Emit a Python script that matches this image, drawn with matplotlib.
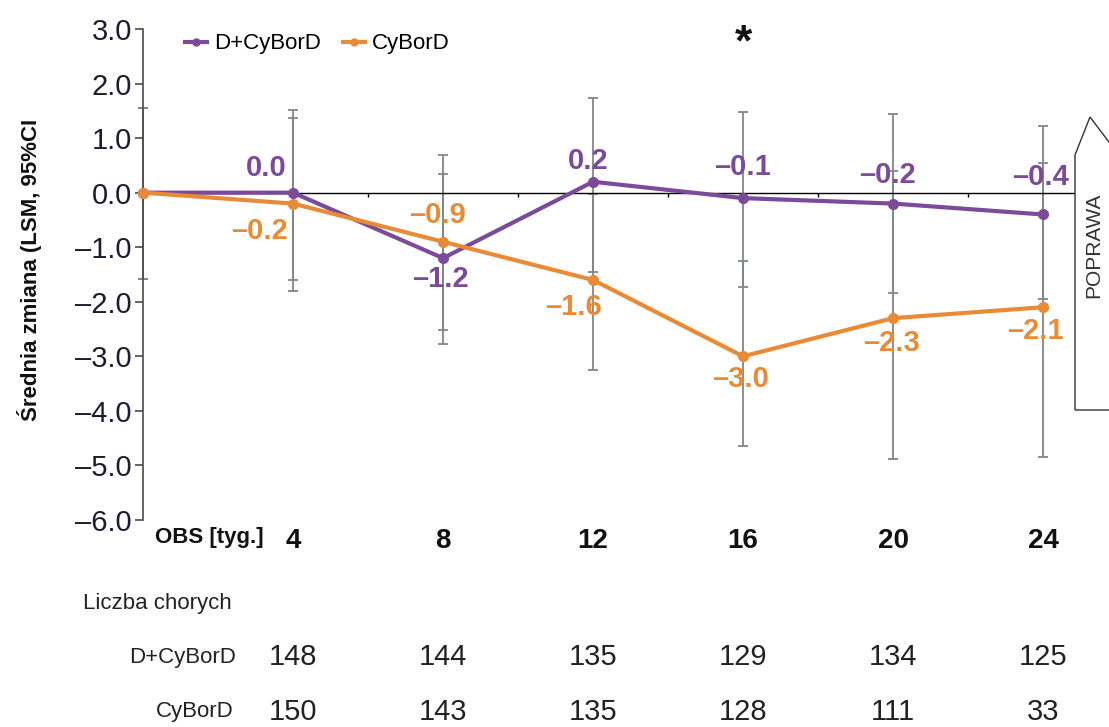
import numpy as np
import matplotlib
matplotlib.use('Agg')
from matplotlib import pyplot as plt
from matplotlib import transforms
from matplotlib.lines import Line2D
from matplotlib.patches import Polygon

plt.rcParams['font.family'] = ['Liberation Sans', 'DejaVu Sans']

# Weeks of observation (0 = baseline).
weeks = [0, 4, 8, 12, 16, 20, 24]
week_labels = ['4', '8', '12', '16', '20', '24']

# LSM change from baseline for each arm.
dara_lsm = [0.0, 0.0, -1.2, 0.2, -0.1, -0.2, -0.4]
ctrl_lsm = [0.0, -0.2, -0.9, -1.6, -3.0, -2.3, -2.1]

# 95% CI limits.
dara_ci_low = [-1.58, -1.60, -2.78, -1.45, -1.73, -1.84, -1.94]
dara_ci_high = [1.55, 1.51, 0.35, 1.73, 1.47, 1.44, 1.22]
ctrl_ci_low = [-1.58, -1.80, -2.52, -3.25, -4.65, -4.89, -4.84]
ctrl_ci_high = [1.55, 1.36, 0.69, -0.02, -1.25, 0.40, 0.55]

# Patients at risk.
dara_n = [148, 144, 135, 129, 134, 125]
ctrl_n = [150, 143, 135, 128, 111, 33]

PURPLE = '#7b4b99'
ORANGE = '#e98b36'
GREY = '#80878b'
TICK_COL = '#1c1c2e'

W, H = 1109, 727
fig = plt.figure(figsize=(W / 100, H / 100), dpi=100)


def fx(px):
    return px / W


def fy(py):
    return 1 - py / H


ax = fig.add_axes([fx(143), fy(520), fx(1075) - fx(143), fy(29) - fy(520)])
ax.set_xlim(0, 24.85)
ax.set_ylim(-6, 3)

for s in ['top', 'right', 'bottom']:
    ax.spines[s].set_visible(False)
ax.spines['left'].set_color('#4a4a4a')
ax.spines['left'].set_linewidth(1.2)

yt = np.arange(-6, 4)
ax.set_yticks(yt)
ax.set_yticklabels([f'{v:.1f}'.replace('-', '\u2013') for v in yt],
                   fontsize=21, color=TICK_COL)
ax.tick_params(axis='y', direction='out', length=6, width=1.2,
               color='#4a4a4a', pad=2)

ax.set_xticks(weeks[1:])
ax.set_xticklabels(week_labels, fontsize=20, fontweight='bold', color='#111111')
ax.tick_params(axis='x', length=0, pad=6)

# Reference line at zero with small ticks between the visits.
ax.axhline(0, color='black', lw=1.0, zorder=2)
mids = (np.array(weeks[1:-1]) + np.array(weeks[2:])) / 2
ax.vlines(mids, -0.08, 0, color='black', lw=1.0, zorder=2)

# Confidence intervals.
for lsm, lo, hi in [(dara_lsm, dara_ci_low, dara_ci_high),
                    (ctrl_lsm, ctrl_ci_low, ctrl_ci_high)]:
    lsm = np.array(lsm)
    err = [lsm - np.array(lo), np.array(hi) - lsm]
    ax.errorbar(weeks, lsm, yerr=err, fmt='none', ecolor=GREY,
                elinewidth=1.3, capsize=3.5, capthick=1.3, zorder=1,
                clip_on=False)

ax.plot(weeks, dara_lsm, color=PURPLE, lw=3, marker='o', ms=7,
        zorder=4, clip_on=False)
ax.plot(weeks, ctrl_lsm, color=ORANGE, lw=3, marker='o', ms=7,
        zorder=5, clip_on=False)

# Value labels.
dara_off = [(-27, 25), (-3, -21), (-5, 21), (-1, 31), (-6, 29), (-3, 37)]
ctrl_off = [(-34, -27), (-6, 27), (-20, -27), (-3, -23), (-2, -25), (-8, -24)]
for vals, offs, col in [(dara_lsm, dara_off, PURPLE), (ctrl_lsm, ctrl_off, ORANGE)]:
    for wk, v, off in zip(weeks[1:], vals[1:], offs):
        ax.annotate(f'{v:.1f}'.replace('-', '\u2013'), (wk, v),
                    xytext=off, textcoords='offset pixels',
                    ha='center', va='center', fontsize=21,
                    fontweight='bold', color=col, zorder=6)

ax.text(16, 2.72, '*', ha='center', va='center', fontsize=32,
        fontweight='bold', color='#111111')

fig.text(fx(30), fy(270), 'Średnia zmiana (LSM, 95%CI', rotation=90,
         ha='center', va='center', fontsize=16, fontweight='bold',
         color='#111111')
fig.text(fx(155), fy(538), 'OBS [tyg.]', ha='left', va='center',
         fontsize=16, fontweight='bold', color='#111111')

handles = [Line2D([], [], color=PURPLE, lw=3, marker='o', ms=5),
           Line2D([], [], color=ORANGE, lw=3, marker='o', ms=5)]
fig.legend(handles, ['D+CyBorD', 'CyBorD'], loc='center left',
           bbox_to_anchor=(fx(185), fy(44)), ncol=2, frameon=False,
           fontsize=16, handlelength=1.0, handletextpad=0.3,
           columnspacing=1.0, borderaxespad=0, borderpad=0)

# Patients-at-risk table.
trans = transforms.blended_transform_factory(ax.transData, fig.transFigure)
fig.text(fx(83), fy(603), 'Liczba chorych', ha='left', va='center',
         fontsize=16, color='#222222')
fig.text(fx(236), fy(657), 'D+CyBorD', ha='right', va='center',
         fontsize=16, color='#222222')
fig.text(fx(234), fy(712), 'CyBorD', ha='right', va='center',
         fontsize=16, color='#222222')
for wk, a, b in zip(weeks[1:], dara_n, ctrl_n):
    ax.text(wk, fy(657), str(a), transform=trans, ha='center', va='center',
            fontsize=21, color='#222222')
    ax.text(wk, fy(712), str(b), transform=trans, ha='center', va='center',
            fontsize=21, color='#222222')

# Improvement arrow on the right.
arrow = Polygon([(fx(1075), fy(410)), (fx(1075), fy(155)), (fx(1090), fy(117)),
                 (fx(1115), fy(150)), (fx(1115), fy(410))],
                closed=True, fill=False, edgecolor='#333333', lw=1.0,
                transform=fig.transFigure, clip_on=False)
fig.add_artist(arrow)
fig.text(fx(1094), fy(245), 'POPRAWA', rotation=90, ha='center', va='center',
         fontsize=15, color='#333333')

fig.savefig('out.png', dpi=100)
